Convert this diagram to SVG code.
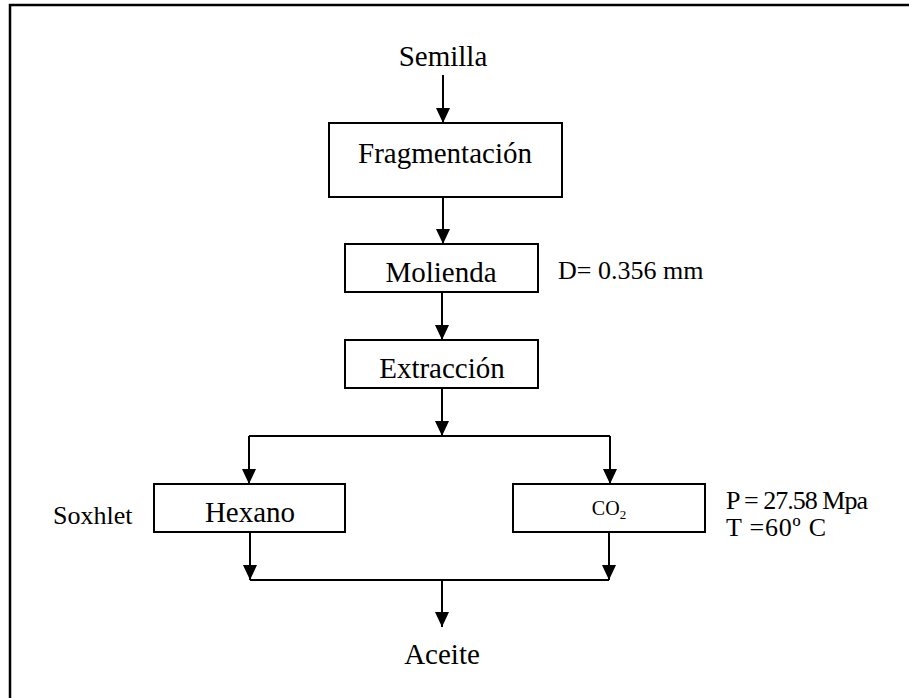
<svg xmlns="http://www.w3.org/2000/svg" width="909" height="698" viewBox="0 0 909 698">
<style>
  text { font-family: "Liberation Serif", "Times New Roman", serif; fill: #000; }
  .t { font-size: 29px; text-anchor: middle; }
  .s { font-size: 26px; }
  .box { fill: #fff; stroke: #000; stroke-width: 2; }
  .ln { fill: none; stroke: #000; stroke-width: 2; }
</style>
<defs>
  <marker id="ah" markerUnits="userSpaceOnUse" markerWidth="15" markerHeight="14" refX="15" refY="7" orient="auto" viewBox="0 0 15 14">
    <path d="M0,0 L15,7 L0,14 z" fill="#000"/>
  </marker>
</defs>
<rect width="909" height="698" fill="#fff"/>
<path d="M10,698 V5 H909" fill="none" stroke="#000" stroke-width="2.5"/>

<g id="connectors">
  <line class="ln" x1="443" y1="75" x2="443" y2="123" marker-end="url(#ah)"/>
  <line class="ln" x1="443" y1="197" x2="443" y2="244" marker-end="url(#ah)"/>
  <line class="ln" x1="442" y1="292" x2="442" y2="340" marker-end="url(#ah)"/>
  <line class="ln" x1="442" y1="388" x2="442" y2="436" marker-end="url(#ah)"/>
  <path class="ln" d="M249,436 H610"/>
  <line class="ln" x1="249" y1="436" x2="249" y2="484" marker-end="url(#ah)"/>
  <line class="ln" x1="610" y1="436" x2="610" y2="484" marker-end="url(#ah)"/>
  <line class="ln" x1="250" y1="532" x2="250" y2="580" marker-end="url(#ah)"/>
  <line class="ln" x1="609" y1="532" x2="609" y2="580" marker-end="url(#ah)"/>
  <path class="ln" d="M250,580 H609"/>
  <line class="ln" x1="442" y1="580" x2="442" y2="627" marker-end="url(#ah)"/>
</g>

<g id="semilla"><text class="t" x="443" y="66">Semilla</text></g>
<g id="fragmentacion">
  <rect class="box" x="329" y="123" width="233" height="74"/>
  <text class="t" x="445" y="163">Fragmentación</text>
</g>
<g id="molienda">
  <rect class="box" x="345" y="244" width="193" height="48"/>
  <text class="t" x="441" y="282">Molienda</text>
</g>
<g id="d-label"><text class="s" x="558" y="279">D= 0.356 mm</text></g>
<g id="extraccion">
  <rect class="box" x="345" y="340" width="193" height="48"/>
  <text class="t" x="442" y="378">Extracción</text>
</g>
<g id="hexano">
  <rect class="box" x="154" y="484" width="191" height="48"/>
  <text class="t" x="250" y="522">Hexano</text>
</g>
<g id="soxhlet"><text class="s" x="53" y="524">Soxhlet</text></g>
<g id="co2">
  <rect class="box" x="513" y="484" width="192" height="48"/>
  <text x="609" y="515" style="font-size:20px;text-anchor:middle">CO<tspan style="font-size:13px" dy="4">2</tspan></text>
</g>
<g id="conditions">
  <text class="s" x="726" y="509" textLength="142" lengthAdjust="spacing">P = 27.58 Mpa</text>
  <text class="s" x="726" y="536" textLength="100" lengthAdjust="spacing">T =60º C</text>
</g>
<g id="aceite"><text class="t" x="442" y="664">Aceite</text></g>
</svg>
